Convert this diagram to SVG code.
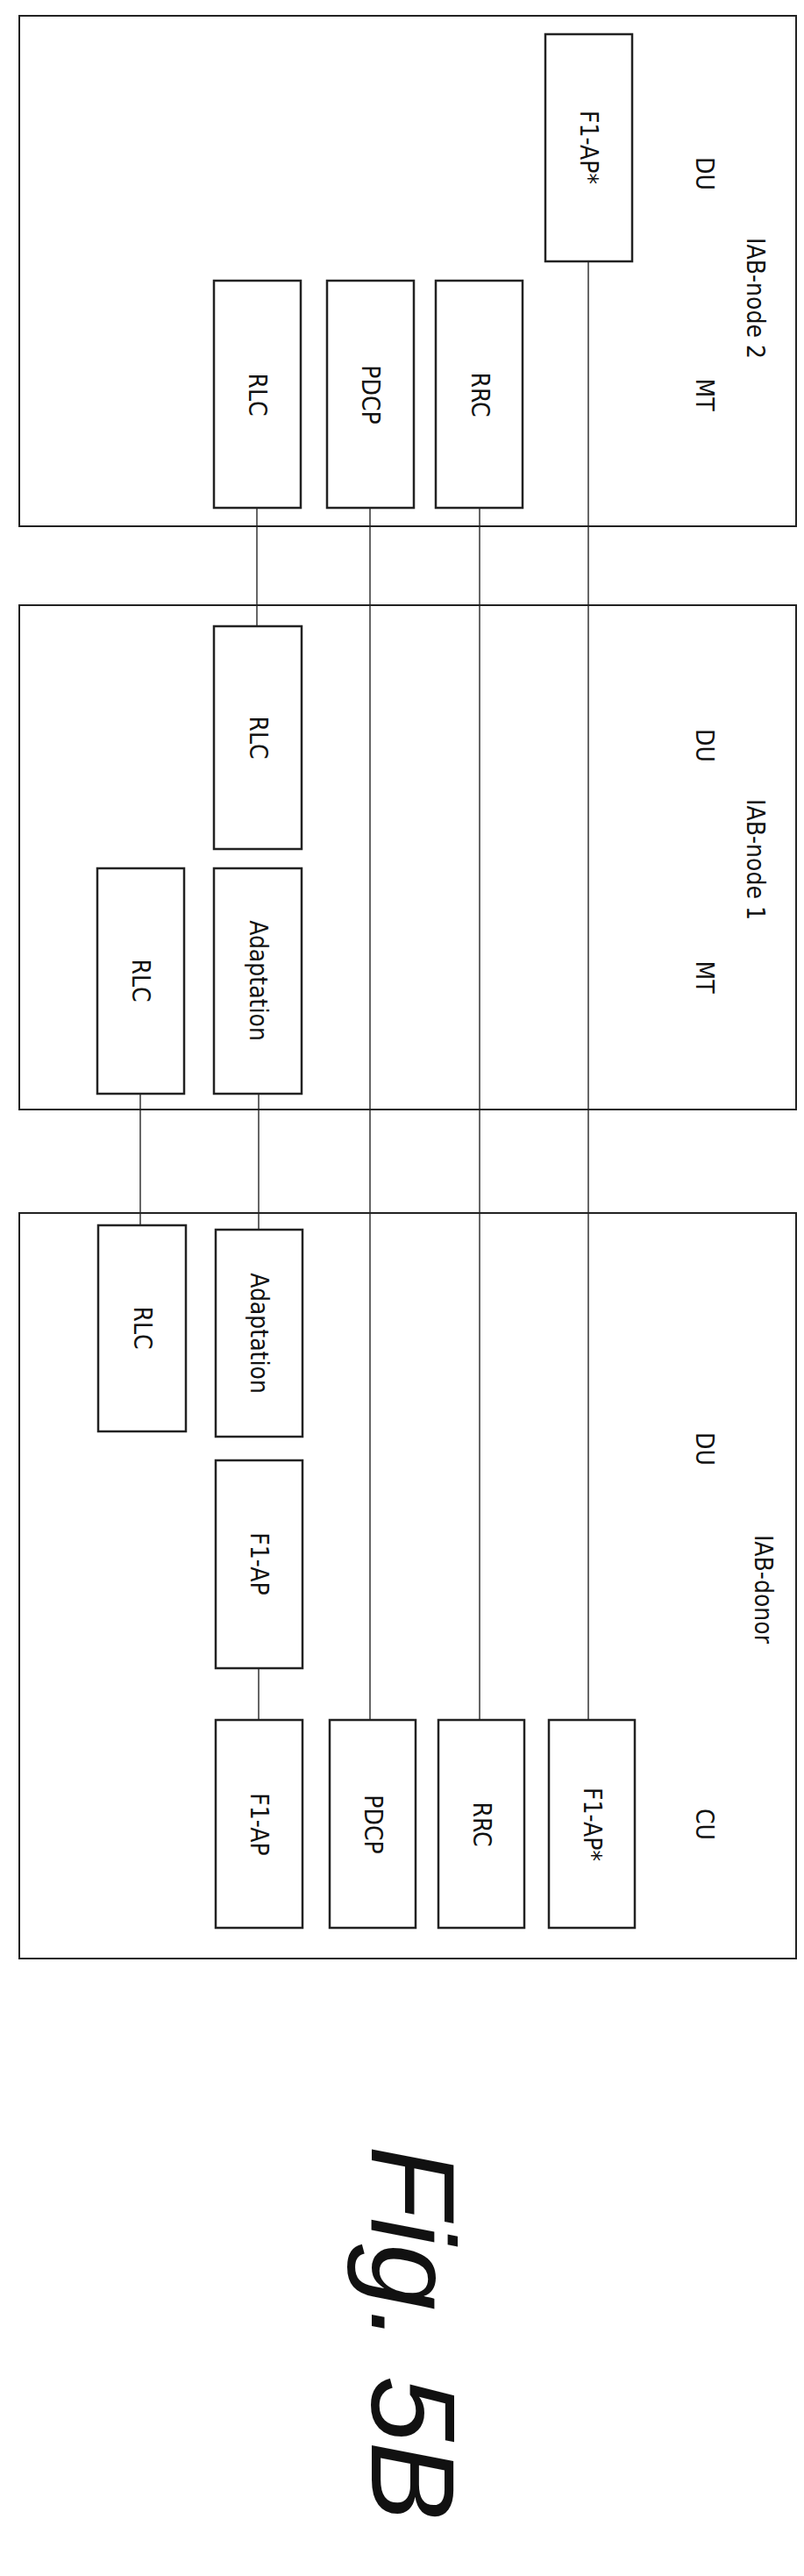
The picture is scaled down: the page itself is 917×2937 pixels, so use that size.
<svg xmlns="http://www.w3.org/2000/svg" width="917" height="2937" viewBox="0 0 917 2937">
<style>
.c{fill:none;stroke:#222;stroke-width:2}
.b{fill:#fff;stroke:#222;stroke-width:2.5}
.l{stroke:#333;stroke-width:1.5}
text{font-family:"DejaVu Sans Condensed","DejaVu Sans",sans-serif;font-stretch:condensed;font-size:28px;fill:#111;text-anchor:middle;dominant-baseline:central}
</style>
<rect width="917" height="2937" fill="#fff"/>
<g id="connectors">
<line class="l" x1="293" y1="579" x2="293" y2="714"/>
<line class="l" x1="422" y1="579" x2="422" y2="1961"/>
<line class="l" x1="547" y1="579" x2="547" y2="1961"/>
<line class="l" x1="671" y1="298" x2="671" y2="1961"/>
<line class="l" x1="295" y1="1247" x2="295" y2="1402"/>
<line class="l" x1="160" y1="1247" x2="160" y2="1397"/>
<line class="l" x1="295" y1="1902" x2="295" y2="1961"/>
</g>
<g id="iab-node-2">
<rect class="c" x="22" y="18" width="886" height="582"/>
<text transform="translate(861,340) rotate(90)">IAB-node 2</text>
<text transform="translate(803,198) rotate(90)">DU</text>
<text transform="translate(803,450) rotate(90)">MT</text>
</g>
<g id="n2-f1ap"><rect class="b" x="622" y="39" width="99" height="259"/><text transform="translate(671,168) rotate(90)">F1-AP*</text></g>
<g id="n2-rlc"><rect class="b" x="244" y="320" width="99" height="259"/><text transform="translate(293,450) rotate(90)">RLC</text></g>
<g id="n2-pdcp"><rect class="b" x="373" y="320" width="99" height="259"/><text transform="translate(422,450) rotate(90)">PDCP</text></g>
<g id="n2-rrc"><rect class="b" x="497" y="320" width="99" height="259"/><text transform="translate(547,450) rotate(90)">RRC</text></g>
<g id="iab-node-1">
<rect class="c" x="22" y="690" width="886" height="575"/>
<text transform="translate(861,980) rotate(90)">IAB-node 1</text>
<text transform="translate(803,850) rotate(90)">DU</text>
<text transform="translate(803,1114) rotate(90)">MT</text>
</g>
<g id="n1-rlc-du"><rect class="b" x="244" y="714" width="100" height="254"/><text transform="translate(294,841) rotate(90)">RLC</text></g>
<g id="n1-adapt"><rect class="b" x="244" y="990" width="100" height="257"/><text transform="translate(294,1118) rotate(90)">Adaptation</text></g>
<g id="n1-rlc-mt"><rect class="b" x="111" y="990" width="99" height="257"/><text transform="translate(160,1118) rotate(90)">RLC</text></g>
<g id="iab-donor">
<rect class="c" x="22" y="1383" width="886" height="850"/>
<text transform="translate(870,1812) rotate(90)">IAB-donor</text>
<text transform="translate(803,1652) rotate(90)">DU</text>
<text transform="translate(803,2080) rotate(90)">CU</text>
</g>
<g id="d-rlc"><rect class="b" x="112" y="1397" width="100" height="235"/><text transform="translate(162,1514) rotate(90)">RLC</text></g>
<g id="d-adapt"><rect class="b" x="246" y="1402" width="99" height="236"/><text transform="translate(295,1520) rotate(90)">Adaptation</text></g>
<g id="d-f1ap-du"><rect class="b" x="246" y="1665" width="99" height="237"/><text transform="translate(295,1783) rotate(90)">F1-AP</text></g>
<g id="d-f1ap-cu"><rect class="b" x="246" y="1961" width="99" height="237"/><text transform="translate(295,2080) rotate(90)">F1-AP</text></g>
<g id="d-pdcp"><rect class="b" x="376" y="1961" width="98" height="237"/><text transform="translate(425,2080) rotate(90)">PDCP</text></g>
<g id="d-rrc"><rect class="b" x="500" y="1961" width="98" height="237"/><text transform="translate(549,2080) rotate(90)">RRC</text></g>
<g id="d-f1ap-star"><rect class="b" x="626" y="1961" width="98" height="237"/><text transform="translate(675,2080) rotate(90)">F1-AP*</text></g>
<text transform="translate(470,2660) rotate(90)" style="font-family:'Liberation Sans',sans-serif;font-style:italic;font-size:135px;font-stretch:normal">Fig. 5B</text>
</svg>
